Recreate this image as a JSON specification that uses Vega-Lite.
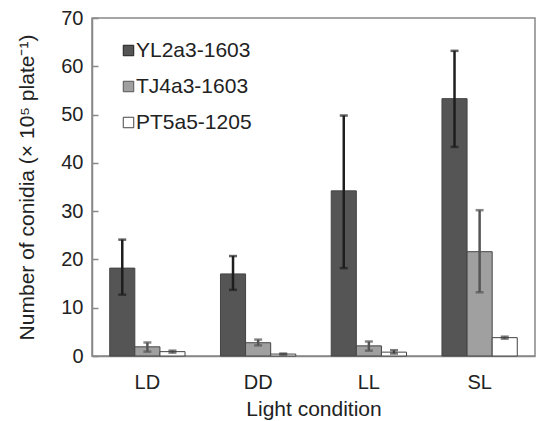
{
  "$schema": "https://vega.github.io/schema/vega-lite/v6.json",
  "width": 443,
  "height": 338,
  "autosize": "none",
  "padding": {"left": 92, "top": 18, "right": 1, "bottom": 65},
  "background": "white",
  "config": {
    "font": "Liberation Sans",
    "view": {"stroke": "#888888", "strokeWidth": 1.5},
    "axis": {"grid": false, "domainColor": "#888888", "domainWidth": 1.5, "labelColor": "#222222", "titleColor": "#222222", "titleFontWeight": "normal"}
  },
  "data": {
    "values": [
      {"condition": "LD", "strain": "YL2a3-1603", "mean": 18.2, "lo": 12.7, "hi": 24.1},
      {"condition": "LD", "strain": "TJ4a3-1603", "mean": 1.9, "lo": 0.9, "hi": 2.8},
      {"condition": "LD", "strain": "PT5a5-1205", "mean": 0.9, "lo": 0.7, "hi": 1.1},
      {"condition": "DD", "strain": "YL2a3-1603", "mean": 17.0, "lo": 13.7, "hi": 20.7},
      {"condition": "DD", "strain": "TJ4a3-1603", "mean": 2.75, "lo": 2.2, "hi": 3.4},
      {"condition": "DD", "strain": "PT5a5-1205", "mean": 0.4, "lo": 0.3, "hi": 0.5},
      {"condition": "LL", "strain": "YL2a3-1603", "mean": 34.2, "lo": 18.2, "hi": 49.8},
      {"condition": "LL", "strain": "TJ4a3-1603", "mean": 2.1, "lo": 1.1, "hi": 3.0},
      {"condition": "LL", "strain": "PT5a5-1205", "mean": 0.8, "lo": 0.5, "hi": 1.2},
      {"condition": "SL", "strain": "YL2a3-1603", "mean": 53.3, "lo": 43.3, "hi": 63.2},
      {"condition": "SL", "strain": "TJ4a3-1603", "mean": 21.6, "lo": 13.2, "hi": 30.2},
      {"condition": "SL", "strain": "PT5a5-1205", "mean": 3.8, "lo": 3.6, "hi": 4.0}
    ]
  },
  "encoding": {
    "x": {
      "field": "condition", "type": "nominal", "sort": ["LD", "DD", "LL", "SL"],
      "scale": {"paddingInner": 0.32, "paddingOuter": 0.16},
      "axis": {"title": "Light condition", "labelAngle": 0, "ticks": false, "labelPadding": 16, "labelFontSize": 20, "titleFontSize": 21, "titlePadding": 6}
    },
    "xOffset": {"field": "strain", "type": "nominal", "sort": ["YL2a3-1603", "TJ4a3-1603", "PT5a5-1205"], "scale": {"paddingInner": 0, "paddingOuter": 0}}
  },
  "layer": [
    {
      "mark": {"type": "bar", "stroke": "#444444", "strokeWidth": 1},
      "encoding": {
        "y": {
          "field": "mean", "type": "quantitative",
          "scale": {"domain": [0, 70], "nice": false},
          "axis": {"title": "Number of conidia (× 10⁵ plate⁻¹)", "values": [0, 10, 20, 30, 40, 50, 60, 70], "tickSize": -6, "tickColor": "#888888", "tickWidth": 1.5, "labelPadding": 15, "labelFontSize": 20, "titleFontSize": 21, "titlePadding": 23}
        },
        "fill": {
          "field": "strain", "type": "nominal",
          "sort": ["YL2a3-1603", "TJ4a3-1603", "PT5a5-1205"],
          "scale": {"domain": ["YL2a3-1603", "TJ4a3-1603", "PT5a5-1205"], "range": ["#555555", "#a0a0a0", "#ffffff"]},
          "legend": {
            "title": null, "orient": "none", "legendX": 26, "legendY": 22, "padding": 0,
            "symbolType": "square", "symbolSize": 110, "symbolStrokeColor": "#444444", "symbolStrokeWidth": 1,
            "labelFontSize": 21, "labelColor": "#222222", "labelOffset": -3, "rowPadding": 14
          }
        }
      }
    },
    {
      "mark": {"type": "rule", "strokeWidth": 2.5},
      "encoding": {
        "y": {"field": "lo", "type": "quantitative"},
        "y2": {"field": "hi"},
        "color": {"field": "strain", "type": "nominal", "scale": {"domain": ["YL2a3-1603", "TJ4a3-1603", "PT5a5-1205"], "range": ["#1e1e1e", "#555555", "#444444"]}, "legend": null}
      }
    },
    {
      "mark": {"type": "tick", "thickness": 2.5, "size": 8},
      "encoding": {
        "y": {"field": "lo", "type": "quantitative"},
        "color": {"field": "strain", "type": "nominal", "legend": null}
      }
    },
    {
      "mark": {"type": "tick", "thickness": 2.5, "size": 8},
      "encoding": {
        "y": {"field": "hi", "type": "quantitative"},
        "color": {"field": "strain", "type": "nominal", "legend": null}
      }
    }
  ]
}
